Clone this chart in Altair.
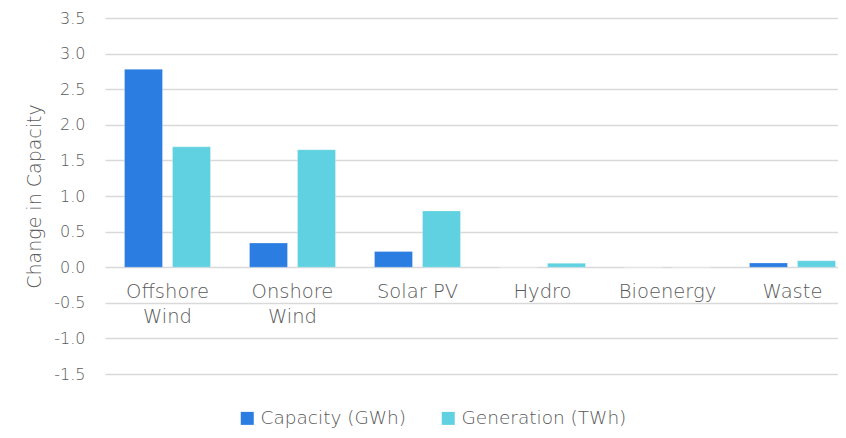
import altair as alt
import pandas as pd

categories = ["Offshore Wind", "Onshore Wind", "Solar PV", "Hydro", "Bioenergy", "Waste"]
series = ["Capacity (GWh)", "Generation (TWh)"]
capacity = [2.78, 0.34, 0.22, 0.0, 0.0, 0.06]
generation = [1.69, 1.65, 0.79, 0.055, 0.0, 0.09]
y_ticks = [-1.5, -1.0, -0.5, 0.0, 0.5, 1.0, 1.5, 2.0, 2.5, 3.0, 3.5]
colors = ["#2b7de1", "#5fd1e0"]

rows = []
for c, v in zip(categories, capacity):
    rows.append({"category": c, "series": series[0], "value": v})
for c, v in zip(categories, generation):
    rows.append({"category": c, "series": series[1], "value": v})
df = pd.DataFrame(rows)

FONT = "DejaVu Sans"
GREY = "#595959"

chart = alt.Chart(df).mark_bar(stroke="#ffffff", strokeOpacity=0.35, strokeWidth=0.8).encode(
    x=alt.X(
        "category:N",
        sort=categories,
        title=None,
        scale=alt.Scale(paddingInner=0.312, paddingOuter=0.088, align=0.886),
        axis=alt.Axis(
            domain=False, ticks=False, labelAngle=0, labelFontSize=19.5, labelFontWeight=300,
            labelColor=GREY, labelFont=FONT, offset=-107, labelPadding=15,
            labelExpr="indexof(datum.label, 'Wind') > 0 ? split(datum.label, ' ') : datum.label",
            labelLineHeight=25,
        ),
    ),
    xOffset=alt.XOffset("series:N", sort=series, scale=alt.Scale(paddingInner=0.208)),
    y=alt.Y(
        "value:Q",
        title="Change in Capacity",
        scale=alt.Scale(domain=[-1.5, 3.5], nice=False, zero=False),
        axis=alt.Axis(
            values=y_ticks, domain=False, ticks=False,
            labelExpr="replace(format(datum.value, '.1f'), '\u2212', '-')",
            labelFontSize=16, labelFontWeight=300, labelColor=GREY, labelFont=FONT, labelPadding=20,
            titleFontSize=19, titleColor=GREY, titleFont=FONT, titleFontWeight=300,
            titlePadding=9, gridColor="#d9d9d9", gridWidth=1.3,
        ),
    ),
    color=alt.Color(
        "series:N",
        sort=series,
        scale=alt.Scale(domain=series, range=colors),
        legend=alt.Legend(
            title=None, orient="none", direction="horizontal", legendX=133, legendY=391,
            symbolType="square", symbolSize=169, symbolStrokeWidth=0,
            labelFontSize=18.5, labelFontWeight=300, labelColor=GREY, labelFont=FONT,
            labelLimit=400, columnPadding=32, labelOffset=4,
        ),
    ),
).properties(
    width=733,
    height=356,
    autosize=alt.AutoSizeParams(type="none"),
    padding={"left": 97, "top": 10, "right": 0, "bottom": 56},
).configure_view(stroke=None)

chart.save("out.html", embed_options={"renderer": "svg", "actions": False})
